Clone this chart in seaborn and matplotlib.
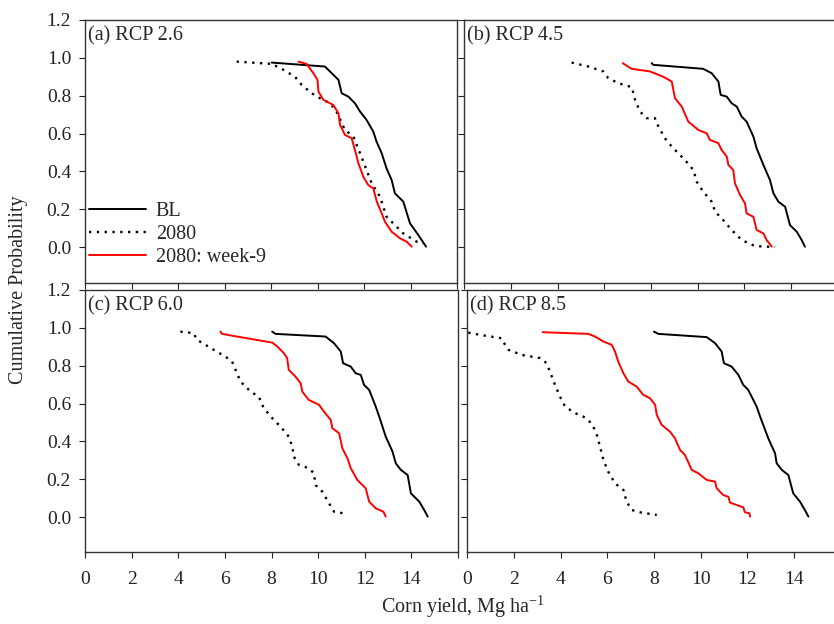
import matplotlib
matplotlib.use("Agg")
import matplotlib.pyplot as plt
import seaborn as sns

# panel titles and series names
panels = ["(a) RCP 2.6", "(b) RCP 4.5", "(c) RCP 6.0", "(d) RCP 8.5"]
series = ["BL", "2080", "2080: week-9"]
x_ticks = [0, 2, 4, 6, 8, 10, 12, 14, 16]
x_labels = ["0", "2", "4", "6", "8", "10", "12", "14", ""]
y_ticks = [0.0, 0.2, 0.4, 0.6, 0.8, 1.0, 1.2]

# (a) RCP 2.6  -- yield (Mg/ha) and cumulative probability
a_bl_x = [8.03, 10.32, 10.9, 11.04, 11.33, 11.61, 11.83, 12.11, 12.4, 12.54, 12.76,
          12.97, 13.19, 13.33, 13.69, 13.98, 14.34, 14.67]
a_bl_p = [0.975, 0.954, 0.884, 0.813, 0.795, 0.76, 0.716, 0.672, 0.61, 0.557, 0.496,
          0.416, 0.354, 0.284, 0.24, 0.125, 0.063, 0.002]
a_fut_x = [6.52, 8.03, 8.53, 9.03, 9.32, 9.75, 10.1, 10.54, 10.82, 11.18, 11.54, 11.83,
           12.11, 12.33, 12.69, 12.97, 13.26, 13.69, 14.27, 14.55]
a_fut_p = [0.98, 0.968, 0.937, 0.9, 0.857, 0.813, 0.787, 0.76, 0.716, 0.619, 0.584, 0.496,
           0.407, 0.337, 0.266, 0.16, 0.125, 0.072, 0.028, 0.02]
a_wk9_x = [9.18, 9.53, 9.82, 10.0, 10.04, 10.25, 10.68, 10.9, 10.97, 11.18, 11.47, 11.61,
           11.76, 11.97, 12.18, 12.4, 12.55, 12.76, 12.9, 13.19, 13.55, 13.84, 14.05]
a_wk9_p = [0.98, 0.968, 0.919, 0.884, 0.822, 0.778, 0.751, 0.707, 0.646, 0.593, 0.575, 0.513,
           0.443, 0.372, 0.328, 0.31, 0.24, 0.178, 0.134, 0.081, 0.046, 0.028, 0.002]

# (b) RCP 4.5
b_bl_x = [8.03, 8.1, 10.24, 10.6, 10.89, 10.99, 11.25, 11.46, 11.68, 11.89, 12.1, 12.39,
          12.53, 12.82, 13.1, 13.25, 13.46, 13.75, 13.96, 14.25, 14.46, 14.6]
b_bl_p = [0.972, 0.963, 0.942, 0.919, 0.875, 0.804, 0.795, 0.76, 0.742, 0.689, 0.663, 0.584,
          0.522, 0.434, 0.354, 0.284, 0.24, 0.213, 0.116, 0.081, 0.037, 0.002]
b_fut_x = [4.6, 5.32, 5.96, 6.17, 6.6, 7.18, 7.32, 7.53, 7.82, 8.17, 8.32, 8.6, 8.89, 9.17,
           9.46, 9.82, 9.96, 10.24, 10.6, 10.75, 11.03, 11.46, 11.89, 12.46, 13.32]
b_fut_p = [0.975, 0.954, 0.928, 0.893, 0.866, 0.845, 0.778, 0.716, 0.681, 0.681, 0.637, 0.575,
           0.531, 0.496, 0.46, 0.407, 0.346, 0.293, 0.24, 0.187, 0.152, 0.09, 0.037, 0.005, 0.0]
b_wk9_x = [6.79, 7.17, 7.96, 8.53, 8.89, 9.03, 9.32, 9.6, 10.03, 10.39, 10.53, 10.89, 11.03,
           11.25, 11.32, 11.53, 11.6, 11.82, 12.03, 12.1, 12.39, 12.46, 12.53, 12.82, 12.96, 13.18]
b_wk9_p = [0.972, 0.942, 0.928, 0.9, 0.875, 0.787, 0.742, 0.663, 0.619, 0.601, 0.566, 0.549,
           0.513, 0.478, 0.434, 0.407, 0.337, 0.275, 0.231, 0.178, 0.16, 0.125, 0.09, 0.072,
           0.037, 0.002]

# (c) RCP 6.0
c_bl_x = [8.03, 8.17, 10.32, 10.68, 10.97, 11.07, 11.4, 11.61, 11.83, 11.97, 12.19, 12.47,
          12.62, 12.9, 13.19, 13.33, 13.55, 13.84, 13.98, 14.34, 14.55, 14.7]
c_bl_p = [0.98, 0.968, 0.954, 0.919, 0.875, 0.813, 0.795, 0.76, 0.751, 0.698, 0.672, 0.584,
          0.531, 0.425, 0.346, 0.284, 0.249, 0.222, 0.125, 0.081, 0.037, 0.002]
c_fut_x = [4.09, 4.66, 4.8, 5.52, 6.02, 6.31, 6.52, 6.67, 7.1, 7.45, 7.67, 8.1, 8.39, 8.74,
           8.89, 8.96, 9.18, 9.6, 9.82, 9.89, 10.18, 10.47, 10.68, 11.26]
c_fut_p = [0.98, 0.972, 0.937, 0.884, 0.848, 0.822, 0.76, 0.716, 0.663, 0.637, 0.575, 0.513,
           0.478, 0.425, 0.372, 0.319, 0.275, 0.258, 0.231, 0.169, 0.134, 0.072, 0.028, 0.016]
c_wk9_x = [5.81, 5.88, 6.52, 8.03, 8.25, 8.53, 8.67, 8.74, 9.03, 9.25, 9.32, 9.6, 10.04,
           10.25, 10.54, 10.61, 10.9, 11.04, 11.26, 11.4, 11.68, 12.04, 12.19, 12.47, 12.8, 12.9]
c_wk9_p = [0.98, 0.968, 0.954, 0.922, 0.901, 0.866, 0.84, 0.778, 0.742, 0.707, 0.663, 0.619,
           0.593, 0.557, 0.513, 0.469, 0.443, 0.363, 0.31, 0.258, 0.196, 0.152, 0.081, 0.046,
           0.028, 0.002]

# (d) RCP 8.5
d_bl_x = [8.0, 8.19, 10.26, 10.62, 10.9, 11.0, 11.33, 11.62, 11.83, 12.04, 12.4, 12.55,
          12.9, 13.19, 13.26, 13.48, 13.76, 13.97, 14.26, 14.47, 14.62]
d_bl_p = [0.98, 0.968, 0.951, 0.919, 0.875, 0.813, 0.795, 0.751, 0.698, 0.672, 0.584, 0.531,
          0.416, 0.337, 0.284, 0.249, 0.222, 0.125, 0.081, 0.037, 0.002]
d_fut_x = [0.04, 0.54, 1.47, 1.62, 1.76, 2.33, 3.12, 3.4, 3.54, 3.76, 3.97, 4.19, 4.62, 4.97,
           5.19, 5.4, 5.55, 5.69, 5.83, 6.04, 6.33, 6.69, 6.83, 7.05, 7.47, 8.12]
d_fut_p = [0.975, 0.963, 0.945, 0.91, 0.884, 0.857, 0.84, 0.813, 0.769, 0.698, 0.637, 0.584,
           0.549, 0.531, 0.513, 0.478, 0.434, 0.372, 0.302, 0.24, 0.178, 0.143, 0.081, 0.037,
           0.023, 0.011]
d_wk9_x = [3.23, 5.19, 5.47, 5.83, 6.19, 6.33, 6.47, 6.69, 6.9, 7.26, 7.54, 7.83, 8.05, 8.12,
           8.33, 8.69, 8.9, 9.12, 9.33, 9.62, 9.9, 10.26, 10.62, 10.69, 10.97, 11.19, 11.26,
           11.83, 11.9, 12.09, 12.12]
d_wk9_p = [0.977, 0.968, 0.954, 0.928, 0.91, 0.875, 0.822, 0.76, 0.716, 0.689, 0.646, 0.628,
           0.593, 0.54, 0.487, 0.451, 0.416, 0.354, 0.328, 0.249, 0.231, 0.196, 0.187, 0.152,
           0.116, 0.107, 0.076, 0.051, 0.025, 0.02, 0.002]

curves = [
    [(a_bl_x, a_bl_p), (a_fut_x, a_fut_p), (a_wk9_x, a_wk9_p)],
    [(b_bl_x, b_bl_p), (b_fut_x, b_fut_p), (b_wk9_x, b_wk9_p)],
    [(c_bl_x, c_bl_p), (c_fut_x, c_fut_p), (c_wk9_x, c_wk9_p)],
    [(d_bl_x, d_bl_p), (d_fut_x, d_fut_p), (d_wk9_x, d_wk9_p)],
]
colors = ["black", "black", "#ff0000"]
styles = ["-", (0, (1, 2.3)), "-"]
widths = [1.4, 1.7, 1.4]

sns.set_style("ticks")
plt.rcParams["font.family"] = ["Liberation Serif", "DejaVu Serif"]
plt.rcParams["mathtext.fontset"] = "custom"
plt.rcParams["mathtext.rm"] = "Liberation Serif"
plt.rcParams["mathtext.it"] = "Liberation Serif:italic"

fig = plt.figure(figsize=(8.34, 6.24), dpi=100)
W, H = 834.0, 624.0
# axes boxes in pixels: left, top, right, bottom
boxes = [(85, 20, 457, 283), (464.3, 20, 837.6, 283),
         (85, 290, 458, 552), (467.3, 290, 840.6, 552)]
ylows = [-0.19, -0.19, -0.185, -0.185]

for i, (l, t, r, b) in enumerate(boxes):
    ax = fig.add_axes([l / W, 1 - b / H, (r - l) / W, (b - t) / H])
    for j, (xs, ps) in enumerate(curves[i]):
        sns.lineplot(x=xs, y=ps, ax=ax, color=colors[j], linestyle=styles[j],
                     linewidth=widths[j], estimator=None, sort=False, label=series[j])
    ax.set_xlim(0, 16)
    ax.set_ylim(ylows[i], 1.2)
    ax.set_xticks(x_ticks)
    ax.set_yticks(y_ticks)
    ax.tick_params(direction="out", length=4, width=0.8, labelsize=14, colors="#222222")
    ax.tick_params(axis="x", pad=10)
    ax.tick_params(axis="y", pad=6)
    if i < 2:
        ax.set_xticklabels([])
    else:
        ax.set_xticklabels(x_labels)
    if i % 2 == 1:
        ax.set_yticklabels([])
    else:
        ax.set_yticklabels(["%.1f" % v for v in y_ticks])
    for sp in ax.spines.values():
        sp.set_linewidth(1.0)
        sp.set_color("#333333")
    ax.set_xlabel("")
    ax.set_ylabel("")
    ax.text(0.008, 0.975, panels[i], transform=ax.transAxes, ha="left", va="top",
            fontsize=14.5)
    if i == 0:
        ax.legend(loc="lower left", frameon=False, fontsize=14.5, handlelength=2.8,
                  handletextpad=0.5, labelspacing=0.2, borderaxespad=0.0,
                  bbox_to_anchor=(-0.01, 0.03))
    else:
        ax.get_legend().remove()

fig.text(0.022, 0.535, "Cumulative Probability", rotation=90, ha="center", va="center",
         fontsize=14.5)
fig.text(463 / W, 1 - 607 / H, "Corn yield, Mg ha$^{\\mathrm{-1}}$", ha="center",
         va="center", fontsize=14.5)

fig.savefig("out.png", dpi=100)
